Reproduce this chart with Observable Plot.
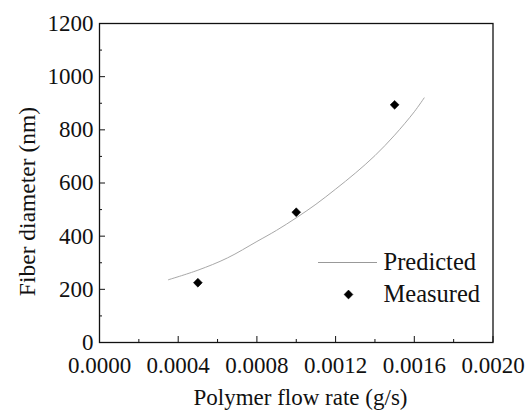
<!DOCTYPE html>
<html>
<head>
<meta charset="utf-8">
<script src="https://cdn.jsdelivr.net/npm/d3@7"></script>
<script src="https://cdn.jsdelivr.net/npm/@observablehq/plot@0.6"></script>
<style>
  html, body { margin: 0; padding: 0; background: #fff; }
</style>
</head>
<body>
<div id="chart"></div>
<script>
// Measured data
const measuredRate = [0.0005, 0.0010, 0.0015];
const measuredDiameter = [225, 490, 894];

// Predicted curve
const predictedRate = [0.00035, 0.0005, 0.00065, 0.0008, 0.0009, 0.0010, 0.0011, 0.0012, 0.0013, 0.0014, 0.0015, 0.0016, 0.00165];
const predictedDiameter = [236, 272, 318, 380, 422, 469, 520, 577, 637, 703, 780, 868, 920];

// Ticks
const xMajorTicks = [0, 0.0004, 0.0008, 0.0012, 0.0016, 0.0020];
const xMinorTicks = [0.0002, 0.0006, 0.0010, 0.0014, 0.0018];
const yMajorTicks = [0, 200, 400, 600, 800, 1000, 1200];
const yMinorTicks = [100, 300, 500, 700, 900, 1100];

const xTitle = "Polymer flow rate (g/s)";
const yTitle = "Fiber diameter (nm)";
const legendLabels = ["Predicted", "Measured"];

const measured = measuredRate.map((x, i) => ({x, y: measuredDiameter[i]}));
const predicted = predictedRate.map((x, i) => ({x, y: predictedDiameter[i]}));

const serif = "'Liberation Serif', 'Times New Roman', serif";
const lineSymbol = {draw(ctx) { ctx.moveTo(-29.5, 0); ctx.lineTo(29.5, 0); }};

const chart = Plot.plot({
  width: 529,
  height: 416,
  marginLeft: 99,
  marginRight: 36.5,
  marginTop: 23,
  marginBottom: 74,
  style: `font-family: ${serif}; font-size: 23px; color: #111; background: #fff;`,
  x: {domain: [0, 0.002]},
  y: {domain: [0, 1200]},
  marks: [
    Plot.frame({stroke: "#111", strokeWidth: 1.3}),
    Plot.axisX({ticks: xMajorTicks, tickSize: -6, tickPadding: 20, tickFormat: d3.format(".4f"), label: null, fontSize: 23}),
    Plot.axisX({ticks: xMinorTicks, tickSize: -3, text: null, label: null}),
    Plot.axisY({ticks: yMajorTicks, tickSize: -6, tickPadding: 12, tickFormat: d => String(d), label: null, fontSize: 23}),
    Plot.axisY({ticks: yMinorTicks, tickSize: -3, text: null, label: null}),
    // axis titles
    Plot.text([xTitle], {frameAnchor: "bottom", dx: 300 - 295.75, dy: 397 - 342, text: d => d, textAnchor: "middle", lineAnchor: "middle", fontSize: 23, fill: "#111"}),
    Plot.text([yTitle], {frameAnchor: "left", dx: 27 - 99, dy: 201 - 182.5, text: d => d, rotate: -90, textAnchor: "middle", lineAnchor: "middle", fontSize: 23.5, fill: "#111"}),
    Plot.line(predicted, {x: "x", y: "y", curve: "catmull-rom", stroke: "#a8a8a8", strokeWidth: 1}),
    Plot.dot(measured, {x: "x", y: "y", symbol: "diamond2", r: 4, fill: "#000", stroke: "#000", strokeWidth: 0.5}),
    // legend
    Plot.dot([0], {frameAnchor: "top-left", dx: 347 - 99, dy: 262 - 23, symbol: lineSymbol, stroke: "#999", strokeWidth: 1, fill: "none"}),
    Plot.dot([0], {frameAnchor: "top-left", dx: 348 - 99, dy: 294 - 23, symbol: "diamond2", r: 4, fill: "#000", stroke: "#000", strokeWidth: 0.5}),
    Plot.text([legendLabels[0]], {frameAnchor: "top-left", dx: 383 - 99, dy: 262 - 23, text: d => d, textAnchor: "start", lineAnchor: "middle", fontSize: 24.5, fill: "#111"}),
    Plot.text([legendLabels[1]], {frameAnchor: "top-left", dx: 383 - 99, dy: 294 - 23, text: d => d, textAnchor: "start", lineAnchor: "middle", fontSize: 24.5, fill: "#111"})
  ]
});
document.getElementById("chart").appendChild(chart);
</script>
</body>
</html>
